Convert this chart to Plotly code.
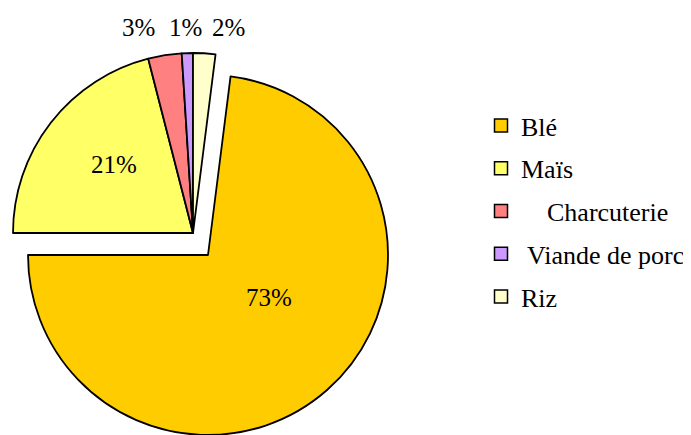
import plotly.graph_objects as go

labels = ['Blé', 'Maïs', '    Charcuterie', ' Viande de porc', 'Riz']
values = [73, 21, 3, 1, 2]
colors = ['#FFCC00', '#FFFF66', '#FF8080', '#CC99FF', '#FFFFCC']

PAGE = 8                     # default body margin of the html page
W, H = 691 - PAGE, 435 - PAGE
R = 180                      # pie radius in px
CENTER = (193, 233)          # centre of the pie (page px)
PULLED = (208, 255)          # centre of the exploded Blé slice (page px)
# where each percentage label sits (page px)
LABEL_POS = [(269, 297), (114, 165), (138, 27), (185, 27), (228, 27)]
FONT = 'Liberation Serif'

total = sum(values)
rotation = 270 - 360 * values[0] / total   # Blé ends at 9 o'clock


def to_paper(px, py):
    return (px - PAGE) / W, 1 - (py - PAGE) / H


def domain(cx, cy):
    cx, cy = cx - PAGE, cy - PAGE
    return dict(x=[(cx - R) / W, (cx + R) / W],
                y=[max(0, 1 - (cy + R) / H), 1 - (cy - R) / H])


def pie(show, center):
    return go.Pie(labels=labels, values=values, sort=False, direction='clockwise',
                  rotation=rotation, domain=domain(*center), textinfo='none',
                  hoverinfo='label+percent', showlegend=False,
                  marker=dict(colors=[c if s else 'rgba(0,0,0,0)' for c, s in zip(colors, show)],
                              line=dict(color='black', width=[1.8 if s else 0 for s in show])))


fig = go.Figure()
fig.add_trace(pie([False, True, True, True, True], CENTER))
fig.add_trace(pie([True, False, False, False, False], PULLED))

# legend entries
for name, c in zip(labels, colors):
    fig.add_trace(go.Scatter(x=[None], y=[None], mode='markers', name=name, legendgroup=name,
                             marker=dict(symbol='square', size=13, color=c,
                                         line=dict(color='black', width=1.5))))

for v, pos in zip(values, LABEL_POS):
    x, y = to_paper(*pos)
    fig.add_annotation(text=f'{round(v / total * 100)}%', x=x, y=y,
                       xref='paper', yref='paper', xanchor='center', yanchor='middle',
                       showarrow=False, font=dict(family=FONT, size=25, color='black'))

lx, ly = to_paper(481, 102)
fig.update_layout(width=W, height=H, margin=dict(l=0, r=0, t=0, b=0),
                  paper_bgcolor='white', plot_bgcolor='white',
                  xaxis=dict(visible=False), yaxis=dict(visible=False),
                  legend=dict(x=lx, y=ly, xanchor='left', yanchor='top',
                              font=dict(family=FONT, size=26, color='black'),
                              tracegroupgap=6, bgcolor='rgba(0,0,0,0)'))

fig.write_html('out.html')
